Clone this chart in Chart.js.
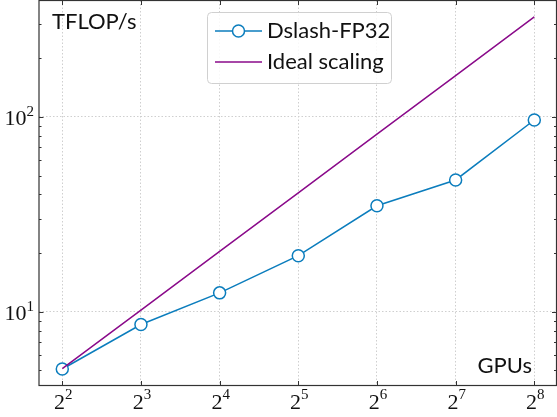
<!DOCTYPE html>
<html>
<head>
<meta charset="utf-8">
<script src="https://cdn.jsdelivr.net/npm/chart.js@4/dist/chart.umd.min.js"></script>
<style>
html,body{margin:0;padding:0;background:#fff;}
#wrap{width:557px;height:417px;position:relative;}
</style>
</head>
<body>
<div id="wrap"><canvas id="c" width="557" height="417"></canvas></div>
<script>
// ---- data ----
const gpus = [4, 8, 16, 32, 64, 128, 256];
const dslashFP32 = [5.08, 8.6, 12.5, 19.4, 35.0, 47.5, 96.5];
const idealScaling = [5.1, 10.2, 20.4, 40.8, 81.6, 163.2, 326.4];
const xTickExponents = [2, 3, 4, 5, 6, 7, 8];
const yTickExponents = [1, 2];
const seriesNames = ['Dslash-FP32', 'Ideal scaling'];
const yLabel = 'TFLOP/s';
const xLabel = 'GPUs';

const BLUE = '#0b7dbd';
const PURPLE = '#8a0a8a';
const SANS = 'Lato, "DejaVu Sans", sans-serif';
const SERIF = '"Liberation Serif", "DejaVu Serif", serif';

const xMajor = xTickExponents.map(e => Math.pow(2, e));
const yMajor = yTickExponents.map(e => Math.pow(10, e));

const decorPlugin = {
  id: 'decor',
  afterDatasetsDraw(chart) {
    const ctx = chart.ctx, a = chart.chartArea;
    const xs = chart.scales.x, ys = chart.scales.y;
    ctx.save();
    ctx.strokeStyle = '#333';
    ctx.lineWidth = 1.2;
    ctx.strokeRect(a.left, a.top, a.right - a.left, a.bottom - a.top);
    ctx.lineWidth = 1;
    xMajor.forEach(v => {
      const px = Math.round(xs.getPixelForValue(v)) + 0.5;
      ctx.beginPath();
      ctx.moveTo(px, a.bottom); ctx.lineTo(px, a.bottom - 4.5);
      ctx.moveTo(px, a.top); ctx.lineTo(px, a.top + 4.5);
      ctx.stroke();
    });
    const yMin = ys.min, yMax = ys.max;
    for (let d = -1; d <= 3; d++) {
      for (let m = 1; m <= 9; m++) {
        const v = m * Math.pow(10, d);
        if (v < yMin || v > yMax) continue;
        const len = (m === 1) ? 4.5 : 2.5;
        const py = Math.round(ys.getPixelForValue(v)) + 0.5;
        ctx.beginPath();
        ctx.moveTo(a.left, py); ctx.lineTo(a.left + len, py);
        ctx.moveTo(a.right, py); ctx.lineTo(a.right - len, py);
        ctx.stroke();
      }
    }
    ctx.restore();
  },
  afterDraw(chart) {
    const ctx = chart.ctx, a = chart.chartArea;
    const xs = chart.scales.x, ys = chart.scales.y;
    ctx.save();
    ctx.fillStyle = '#111';
    xTickExponents.forEach((e, i) => {
      const px = xs.getPixelForValue(xMajor[i]);
      ctx.font = '22px ' + SERIF;
      const wb = ctx.measureText('2').width;
      ctx.font = '15px ' + SERIF;
      const ws = ctx.measureText(String(e)).width;
      const x0 = px - (wb + ws) / 2 + 1;
      ctx.textAlign = 'left'; ctx.textBaseline = 'alphabetic';
      ctx.font = '22px ' + SERIF;
      ctx.fillText('2', x0, a.bottom + 23);
      ctx.font = '15px ' + SERIF;
      ctx.fillText(String(e), x0 + wb, a.bottom + 13);
    });
    yTickExponents.forEach((e, i) => {
      const py = ys.getPixelForValue(yMajor[i]);
      ctx.font = '15px ' + SERIF;
      const ws = ctx.measureText(String(e)).width;
      const xr = a.left - 5;
      ctx.textAlign = 'right';
      ctx.fillText(String(e), xr, py - 1);
      ctx.font = '22px ' + SERIF;
      ctx.fillText('10', xr - ws, py + 8);
    });
    ctx.font = '22px ' + SANS;
    ctx.textAlign = 'left';
    ctx.fillText(yLabel, a.left + 13, a.top + 28);
    ctx.textAlign = 'right';
    ctx.fillText(xLabel, a.left + 493, a.top + 372);
    const bx = 207.5, by = 12.5, bw = 184, bh = 71, r = 4;
    ctx.beginPath();
    ctx.moveTo(bx + r, by);
    ctx.arcTo(bx + bw, by, bx + bw, by + bh, r);
    ctx.arcTo(bx + bw, by + bh, bx, by + bh, r);
    ctx.arcTo(bx, by + bh, bx, by, r);
    ctx.arcTo(bx, by, bx + bw, by, r);
    ctx.closePath();
    ctx.fillStyle = 'rgba(255,255,255,0.85)';
    ctx.fill();
    ctx.strokeStyle = '#d0d0d0';
    ctx.lineWidth = 1;
    ctx.stroke();
    const ds = chart.data.datasets;
    const rows = [31, 62];
    [0, 1].forEach(i => {
      const d = ds[i], y = rows[i];
      ctx.strokeStyle = d.borderColor;
      ctx.lineWidth = d.borderWidth;
      ctx.beginPath(); ctx.moveTo(215, y); ctx.lineTo(262, y); ctx.stroke();
      if (d.pointRadius > 0) {
        ctx.beginPath(); ctx.arc(238.5, y, d.pointRadius, 0, Math.PI * 2);
        ctx.fillStyle = '#fff'; ctx.fill();
        ctx.lineWidth = d.pointBorderWidth; ctx.strokeStyle = d.borderColor; ctx.stroke();
      }
      ctx.fillStyle = '#111';
      ctx.font = '22px ' + SANS;
      ctx.textAlign = 'left';
      ctx.fillText(d.label, 267, y + 7);
    });
    ctx.restore();
  }
};

new Chart(document.getElementById('c'), {
  type: 'line',
  data: {
    datasets: [
      {
        label: seriesNames[0],
        data: gpus.map((g, i) => ({x: g, y: dslashFP32[i]})),
        borderColor: BLUE, borderWidth: 1.5,
        pointRadius: 6, pointBorderWidth: 1.5,
        pointBackgroundColor: '#fff', pointBorderColor: BLUE,
        pointStyle: 'circle', order: 2
      },
      {
        label: seriesNames[1],
        data: gpus.map((g, i) => ({x: g, y: idealScaling[i]})),
        borderColor: PURPLE, borderWidth: 1.5,
        pointRadius: 0, pointBorderWidth: 0, order: 1
      }
    ]
  },
  options: {
    responsive: false,
    animation: false,
    devicePixelRatio: 1,
    layout: {autoPadding: false, padding: {left: 39, right: 0.5, top: 0.5, bottom: 31.5}},
    plugins: {legend: {display: false}, tooltip: {enabled: false}},
    elements: {line: {tension: 0}},
    scales: {
      x: {
        type: 'logarithmic', min: 3.258, max: 311.3,
        afterBuildTicks: s => { s.ticks = xMajor.map(v => ({value: v})); },
        ticks: {display: false},
        grid: {drawTicks: false, color: '#cfcfcf', lineWidth: 1},
        border: {display: false, dash: [1.5, 2]}
      },
      y: {
        type: 'logarithmic', min: 4.18, max: 396.5,
        afterBuildTicks: s => { s.ticks = yMajor.map(v => ({value: v})); },
        ticks: {display: false},
        grid: {drawTicks: false, color: '#cfcfcf', lineWidth: 1},
        border: {display: false, dash: [1.5, 2]}
      }
    }
  },
  plugins: [decorPlugin]
});
</script>
</body>
</html>
